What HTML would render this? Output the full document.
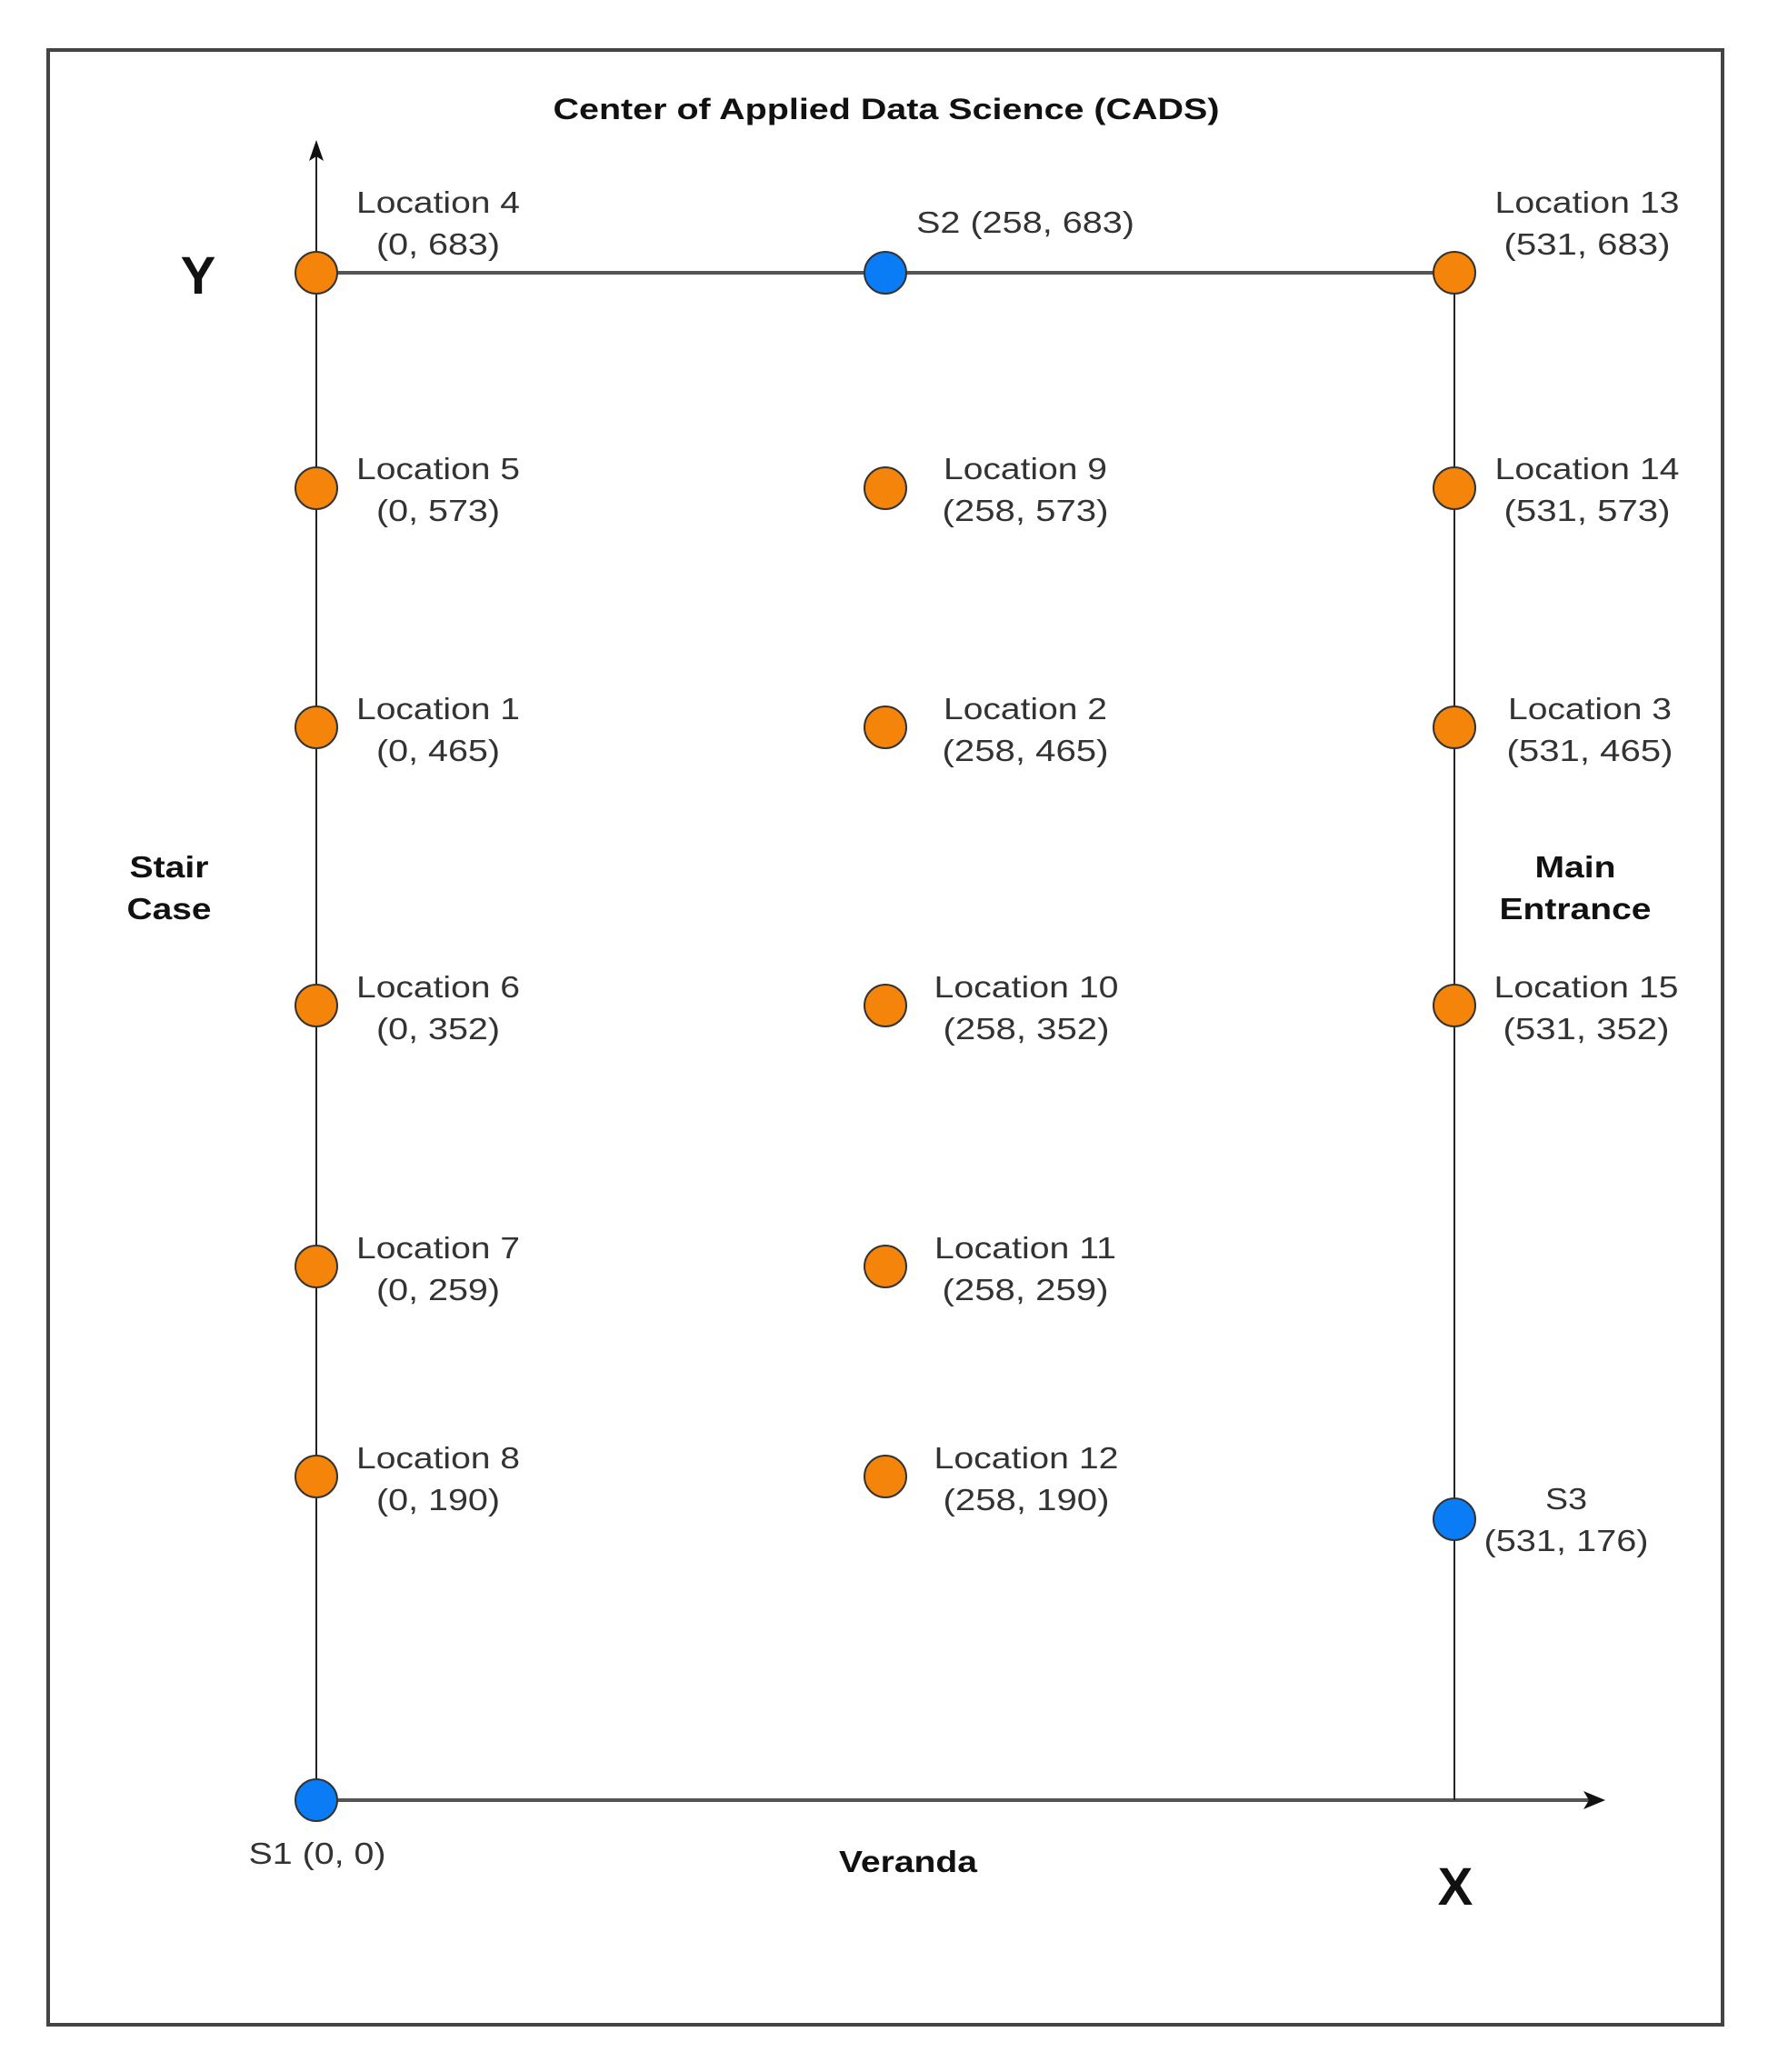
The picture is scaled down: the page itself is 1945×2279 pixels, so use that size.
<!DOCTYPE html>
<html><head><style>html,body{margin:0;padding:0;background:#fff}</style></head><body>
<svg width="1945" height="2274" xmlns="http://www.w3.org/2000/svg" font-family="Liberation Sans, sans-serif">
<rect x="0" y="0" width="1945" height="2274" fill="#fff"/>
<rect x="53" y="55" width="1842" height="2172" fill="none" stroke="#444" stroke-width="4"/>
<text x="975" y="131" font-size="32" font-weight="bold" text-anchor="middle" fill="#111" textLength="733" lengthAdjust="spacingAndGlyphs">Center of Applied Data Science (CADS)</text>
<line x1="348" y1="1980" x2="348" y2="162" stroke="#222" stroke-width="2"/>
<polygon points="348,154 340,177 348,172 356,177" fill="#111"/>
<line x1="348" y1="1980" x2="1755" y2="1980" stroke="#555" stroke-width="4"/>
<polygon points="1766,1980 1742,1970 1748,1980 1742,1990" fill="#111"/>
<line x1="348" y1="300" x2="1600" y2="300" stroke="#555" stroke-width="4"/>
<line x1="1600" y1="300" x2="1600" y2="1980" stroke="#222" stroke-width="2"/>
<g stroke="#333" stroke-width="2">
<circle cx="348" cy="300" r="23" fill="#f5840b"/>
<circle cx="974" cy="300" r="23" fill="#0a7cf5"/>
<circle cx="1600" cy="300" r="23" fill="#f5840b"/>
<circle cx="348" cy="537" r="23" fill="#f5840b"/>
<circle cx="974" cy="537" r="23" fill="#f5840b"/>
<circle cx="1600" cy="537" r="23" fill="#f5840b"/>
<circle cx="348" cy="800" r="23" fill="#f5840b"/>
<circle cx="974" cy="800" r="23" fill="#f5840b"/>
<circle cx="1600" cy="800" r="23" fill="#f5840b"/>
<circle cx="348" cy="1106" r="23" fill="#f5840b"/>
<circle cx="974" cy="1106" r="23" fill="#f5840b"/>
<circle cx="1600" cy="1106" r="23" fill="#f5840b"/>
<circle cx="348" cy="1393" r="23" fill="#f5840b"/>
<circle cx="974" cy="1393" r="23" fill="#f5840b"/>
<circle cx="348" cy="1624" r="23" fill="#f5840b"/>
<circle cx="974" cy="1624" r="23" fill="#f5840b"/>
<circle cx="1600" cy="1671" r="23" fill="#0a7cf5"/>
<circle cx="348" cy="1980" r="23" fill="#0a7cf5"/>
</g>
<g font-size="33" fill="#333" text-anchor="middle" lengthAdjust="spacingAndGlyphs">
<text x="482" y="234" textLength="180" lengthAdjust="spacingAndGlyphs">Location 4</text><text x="482" y="280" textLength="136" lengthAdjust="spacingAndGlyphs">(0, 683)</text>
<text x="1128" y="256" textLength="240" lengthAdjust="spacingAndGlyphs">S2 (258, 683)</text>
<text x="1746" y="234" textLength="203" lengthAdjust="spacingAndGlyphs">Location 13</text><text x="1746" y="280" textLength="183" lengthAdjust="spacingAndGlyphs">(531, 683)</text>
<text x="482" y="527" textLength="180" lengthAdjust="spacingAndGlyphs">Location 5</text><text x="482" y="573" textLength="136" lengthAdjust="spacingAndGlyphs">(0, 573)</text>
<text x="1128" y="527" textLength="180" lengthAdjust="spacingAndGlyphs">Location 9</text><text x="1128" y="573" textLength="183" lengthAdjust="spacingAndGlyphs">(258, 573)</text>
<text x="1746" y="527" textLength="203" lengthAdjust="spacingAndGlyphs">Location 14</text><text x="1746" y="573" textLength="183" lengthAdjust="spacingAndGlyphs">(531, 573)</text>
<text x="482" y="791" textLength="180" lengthAdjust="spacingAndGlyphs">Location 1</text><text x="482" y="837" textLength="136" lengthAdjust="spacingAndGlyphs">(0, 465)</text>
<text x="1128" y="791" textLength="180" lengthAdjust="spacingAndGlyphs">Location 2</text><text x="1128" y="837" textLength="183" lengthAdjust="spacingAndGlyphs">(258, 465)</text>
<text x="1749" y="791" textLength="180" lengthAdjust="spacingAndGlyphs">Location 3</text><text x="1749" y="837" textLength="183" lengthAdjust="spacingAndGlyphs">(531, 465)</text>
<text x="482" y="1097" textLength="180" lengthAdjust="spacingAndGlyphs">Location 6</text><text x="482" y="1143" textLength="136" lengthAdjust="spacingAndGlyphs">(0, 352)</text>
<text x="1129" y="1097" textLength="203" lengthAdjust="spacingAndGlyphs">Location 10</text><text x="1129" y="1143" textLength="183" lengthAdjust="spacingAndGlyphs">(258, 352)</text>
<text x="1745" y="1097" textLength="203" lengthAdjust="spacingAndGlyphs">Location 15</text><text x="1745" y="1143" textLength="183" lengthAdjust="spacingAndGlyphs">(531, 352)</text>
<text x="482" y="1384" textLength="180" lengthAdjust="spacingAndGlyphs">Location 7</text><text x="482" y="1430" textLength="136" lengthAdjust="spacingAndGlyphs">(0, 259)</text>
<text x="1128" y="1384" textLength="200" lengthAdjust="spacingAndGlyphs">Location 11</text><text x="1128" y="1430" textLength="183" lengthAdjust="spacingAndGlyphs">(258, 259)</text>
<text x="482" y="1615" textLength="180" lengthAdjust="spacingAndGlyphs">Location 8</text><text x="482" y="1661" textLength="136" lengthAdjust="spacingAndGlyphs">(0, 190)</text>
<text x="1129" y="1615" textLength="203" lengthAdjust="spacingAndGlyphs">Location 12</text><text x="1129" y="1661" textLength="183" lengthAdjust="spacingAndGlyphs">(258, 190)</text>
<text x="1723" y="1660" textLength="46" lengthAdjust="spacingAndGlyphs">S3</text><text x="1723" y="1706" textLength="181" lengthAdjust="spacingAndGlyphs">(531, 176)</text>
<text x="349" y="2050" textLength="151" lengthAdjust="spacingAndGlyphs">S1 (0, 0)</text>
</g>
<g font-size="33" font-weight="bold" fill="#111" text-anchor="middle">
<text x="186" y="965" textLength="87" lengthAdjust="spacingAndGlyphs">Stair</text><text x="186" y="1011" textLength="93" lengthAdjust="spacingAndGlyphs">Case</text>
<text x="1733" y="965" textLength="89" lengthAdjust="spacingAndGlyphs">Main</text><text x="1733" y="1011" textLength="167" lengthAdjust="spacingAndGlyphs">Entrance</text>
<text x="999" y="2059" textLength="152" lengthAdjust="spacingAndGlyphs">Veranda</text>
</g>
<text x="218" y="323" font-size="58" font-weight="bold" text-anchor="middle" fill="#111">Y</text>
<text x="1601" y="2095" font-size="58" font-weight="bold" text-anchor="middle" fill="#111">X</text>
</svg>
</body></html>
